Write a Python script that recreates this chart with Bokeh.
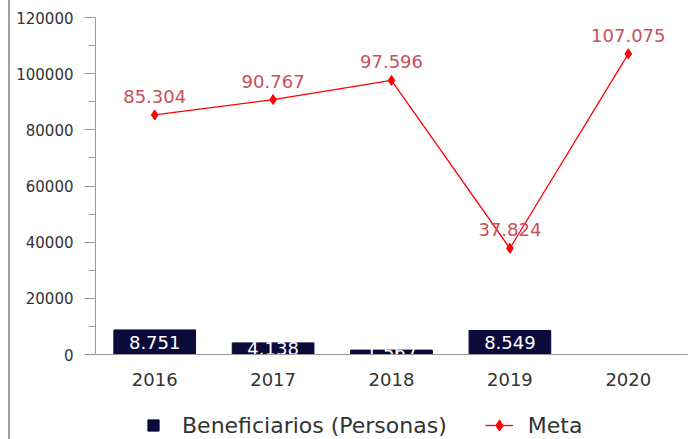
from bokeh.plotting import figure
from bokeh.layouts import column
from bokeh.models import (FixedTicker, ColumnDataSource, Legend, LegendItem,
                          NumeralTickFormatter, Range1d, FactorRange)
from bokeh.embed import file_html
from bokeh.resources import INLINE
from bokeh.core.properties import value

years = ["2016", "2017", "2018", "2019", "2020"]
beneficiarios = [8751, 4138, 1567, 8549]
meta = [85304, 90767, 97596, 37824, 107075]
y_ticks = [0, 20000, 40000, 60000, 80000, 100000, 120000]
y_minor = [10000, 30000, 50000, 70000, 90000, 110000]

def fmt(v):
    return f"{v:,}".replace(",", ".")

FONT = "DejaVu Sans"
NAVY = "#0b0b3b"
RED = "#ff0000"
LBL_RED = "#c9505a"

bar_src = ColumnDataSource(dict(
    x=years[:len(beneficiarios)],
    top=beneficiarios,
    mid=[v / 2 for v in beneficiarios],
    lbl=[fmt(v) for v in beneficiarios],
))
line_src = ColumnDataSource(dict(x=years, y=meta, lbl=[fmt(v) for v in meta]))

W = 689
p = figure(x_range=FactorRange(*years, range_padding=0),
           y_range=Range1d(0, 120000),
           width=W, height=405, output_backend="svg", toolbar_location=None,
           min_border_left=85, min_border_top=17, min_border_right=12,
           min_border_bottom=51)
p.outline_line_color = None
p.xgrid.visible = False
p.ygrid.visible = False

p.vbar(x="x", top="top", width=0.69, source=bar_src,
       fill_color=NAVY, line_color=NAVY)
p.text(x="x", y="mid", text="lbl", source=bar_src, text_color="white",
       text_align="center", text_baseline="middle",
       text_font=value(FONT), text_font_size="18px")

p.line(x="x", y="y", source=line_src, line_color=RED, line_width=1.3)
p.scatter(x="x", y="y", source=line_src, marker="diamond", size=10,
          fill_color=RED, line_color=RED)
p.text(x="x", y="y", text="lbl", source=line_src, text_color=LBL_RED,
       text_align="center", text_baseline="bottom", y_offset=-12,
       text_font=value(FONT), text_font_size="18px")

# axes
ya = p.yaxis[0]
ya.ticker = FixedTicker(ticks=y_ticks, minor_ticks=y_minor)
ya.formatter = NumeralTickFormatter(format="0")
ya.axis_line_color = "#9a9a9a"
ya.major_tick_line_color = "#9a9a9a"
ya.minor_tick_line_color = "#9a9a9a"
ya.major_tick_out = 11
ya.major_tick_in = 0
ya.minor_tick_out = 7
ya.minor_tick_in = 0
ya.major_label_text_font = FONT
ya.major_label_text_font_size = "15px"
ya.major_label_text_color = "#333333"
ya.major_label_standoff = 11

xa = p.xaxis[0]
xa.axis_line_color = "#9a9a9a"
xa.major_tick_line_color = None
xa.major_tick_out = 0
xa.major_tick_in = 0
xa.major_label_text_font = FONT
xa.major_label_text_font_size = "18px"
xa.major_label_text_color = "#333333"
xa.major_label_standoff = 18

# legend strip below the chart
lf = figure(x_range=p.x_range, y_range=p.y_range, width=W, height=34,
            output_backend="svg", toolbar_location=None,
            x_axis_type=None, y_axis_type=None,
            min_border_left=0, min_border_right=0, min_border_top=0,
            min_border_bottom=0)
lf.outline_line_color = None
lf.xgrid.visible = False
lf.ygrid.visible = False
sq = lf.scatter(x="x", y="top", source=bar_src, marker="square",
                fill_color=NAVY, line_color=NAVY, visible=False)
lln = lf.line(x="x", y="y", source=line_src, line_color=RED, line_width=1.3,
              visible=False)
lpt = lf.scatter(x="x", y="y", source=line_src, marker="diamond",
                 fill_color=RED, line_color=RED, visible=False)

legend = Legend(items=[
    LegendItem(label="Beneficiarios (Personas)", renderers=[sq]),
    LegendItem(label="Meta", renderers=[lln, lpt]),
], orientation="horizontal", location=(44, 0),
    label_text_font=FONT, label_text_font_size="22px", label_text_color="#333333",
    glyph_width=28, glyph_height=28, label_standoff=15, spacing=38,
    border_line_color=None, padding=0, margin=0, background_fill_alpha=0)
lf.add_layout(legend, "center")

layout = column(p, lf, spacing=0)
layout.styles = {"border-left": "2px solid #a0a0a0", "margin-left": "8px"}

open("out.html", "w").write(file_html(layout, INLINE))
